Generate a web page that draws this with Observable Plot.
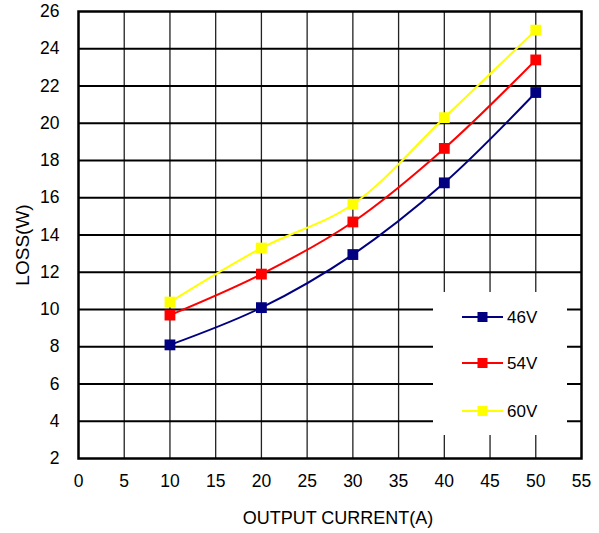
<!DOCTYPE html>
<html>
<head>
<meta charset="utf-8">
<script src="https://cdn.jsdelivr.net/npm/d3@7"></script>
<script src="https://cdn.jsdelivr.net/npm/@observablehq/plot@0.6"></script>
<style>
  html, body { margin: 0; padding: 0; background: #fff; }
  #wrap { position: relative; width: 599px; height: 533px; font-family: "Liberation Sans", Arial, sans-serif; }
  #legend { position: absolute; background: #fff; }
</style>
</head>
<body>
<div id="wrap"></div>
<script>
const current = [10, 20, 30, 40, 50];
const loss46 = [8.1, 10.1, 12.95, 16.8, 21.65];
const loss54 = [9.7, 11.9, 14.7, 18.65, 23.4];
const loss60 = [10.4, 13.3, 15.65, 20.3, 25.0];
const seriesNames = ["46V", "54V", "60V"];
const seriesColors = ["#000080", "#ff0000", "#ffff00"];
const xTicks = [0, 5, 10, 15, 20, 25, 30, 35, 40, 45, 50, 55];
const yTicks = [2, 4, 6, 8, 10, 12, 14, 16, 18, 20, 22, 24, 26];
const xTitle = "OUTPUT CURRENT(A)";
const yTitle = "LOSS(W)";

const seriesValues = [loss46, loss54, loss60];
const rows = [];
seriesNames.forEach((s, i) => current.forEach((c, j) => rows.push({series: s, current: c, loss: seriesValues[i][j]})));

const W = 599, H = 533;
const mL = 78, mR = 18, mT = 11, mB = 75;
const font = "Liberation Sans, Arial, sans-serif";

const chart = Plot.plot({
  width: W, height: H,
  marginLeft: mL, marginRight: mR, marginTop: mT, marginBottom: mB,
  style: {fontFamily: font, background: "#fff", color: "#000", overflow: "visible"},
  x: {domain: [0, 55]},
  y: {domain: [2, 26]},
  color: {domain: seriesNames, range: seriesColors},
  marks: [
    Plot.gridX(xTicks.filter(t => t > 0 && t < 55), {stroke: "#222", strokeOpacity: 1, strokeWidth: 1.3}),
    Plot.gridY(yTicks.filter(t => t > 2 && t < 26), {stroke: "#000", strokeOpacity: 1, strokeWidth: 2}),
    Plot.axisX({ticks: xTicks, tickSize: 0, tickPadding: 16, fontSize: 17.5, label: null, tickFormat: d => String(d)}),
    Plot.axisY({ticks: yTicks, tickSize: 0, tickPadding: 19, fontSize: 17.5, label: null, tickFormat: d => String(d)}),
    Plot.frame({stroke: "#000", strokeWidth: 2.5}),
    Plot.line(rows, {x: "current", y: "loss", z: "series", stroke: "series", strokeWidth: 2, curve: "catmull-rom"}),
    Plot.dot(rows, {x: "current", y: "loss", fill: "series", symbol: "square", r: 6.1}),
    Plot.text([xTitle], {text: d => d, frameAnchor: "bottom", dx: 8, dy: 60, fontSize: 18, fill: "#000", lineAnchor: "middle", textAnchor: "middle"}),
    Plot.text([yTitle], {text: d => d, frameAnchor: "left", dx: -56, dy: 10, rotate: -90, fontSize: 19, fill: "#000", lineAnchor: "middle", textAnchor: "middle"})
  ]
});

const wrap = document.getElementById("wrap");
wrap.appendChild(chart);

// Legend overlay inside plot area
const lx0 = 433, lx1 = 567, ly0 = 292, ly1 = 435;
const leg = d3.select(wrap).append("div").attr("id", "legend")
  .style("left", lx0 + "px").style("top", ly0 + "px")
  .style("width", (lx1 - lx0) + "px").style("height", (ly1 - ly0) + "px");
const lsvg = leg.append("svg").attr("width", lx1 - lx0).attr("height", ly1 - ly0)
  .style("font-family", font).style("display", "block");
const rowY = [25, 71, 119];
seriesNames.forEach((name, i) => {
  const g = lsvg.append("g").attr("transform", `translate(0,${rowY[i]})`);
  g.append("line").attr("x1", 29).attr("x2", 70).attr("y1", 0).attr("y2", 0)
    .attr("stroke", seriesColors[i]).attr("stroke-width", 2);
  g.append("rect").attr("x", 44.5).attr("y", -5).attr("width", 10).attr("height", 10).attr("fill", seriesColors[i]);
  g.append("text").attr("x", 74).attr("y", 0).attr("dy", "0.35em")
    .attr("font-size", 17).attr("fill", "#000").text(name);
});
</script>
</body>
</html>
